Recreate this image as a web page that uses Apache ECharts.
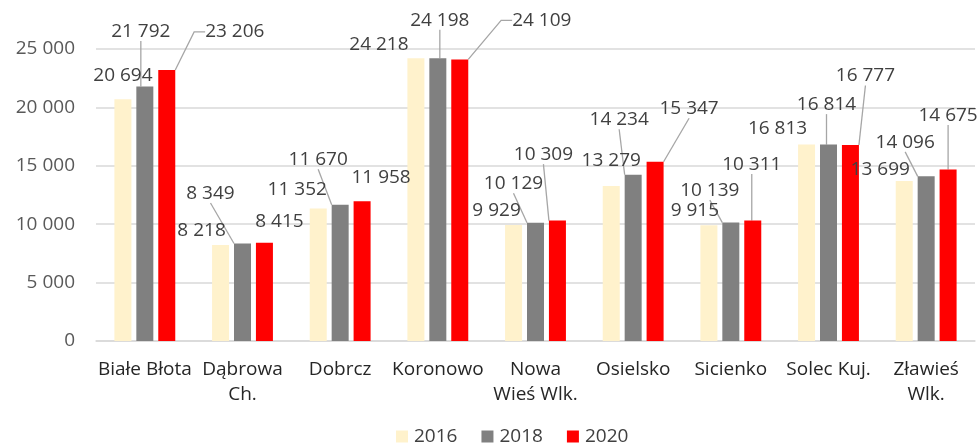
<!DOCTYPE html>
<html>
<head>
<meta charset="utf-8">
<script src="https://cdn.jsdelivr.net/npm/echarts@6/dist/echarts.min.js"></script>
<style>
    html, body { margin: 0; padding: 0; background: #fff; }
    #chart { width: 979px; height: 447px; }
</style>
</head>
<body>
<div id="chart"></div>
<script>
// dane
var categories = ['Białe Błota', 'Dąbrowa\nCh.', 'Dobrcz', 'Koronowo', 'Nowa\nWieś Wlk.', 'Osielsko', 'Sicienko', 'Solec Kuj.', 'Zławieś\nWlk.'];
var seriesNames = ['2016', '2018', '2020'];
var values2016 = [20694, 8218, 11352, 24218, 9929, 13279, 9915, 16813, 13699];
var values2018 = [21792, 8349, 11670, 24198, 10129, 14234, 10139, 16814, 14096];
var values2020 = [23206, 8415, 11958, 24109, 10309, 15347, 10311, 16777, 14675];
var yTicks = [0, 5000, 10000, 15000, 20000, 25000];

// położenie etykiet względem środka górnej krawędzi słupka [dx, dy]
var off2016 = [[0, -24], [-19, -14], [-21, -19], [-37, -14], [-17, -14], [0, -25], [-14, -15], [-29, -16], [-24, -11]];
var off2018 = [[-4, -55], [-32, -50], [-22, -45], [2, -38], [-22, -39], [-14, -55], [-21, -32], [-2, -40], [-21, -34]];
var off2020 = [[68, -38], [15, -21], [19, -24], [82, -39], [-14, -66], [34, -53], [-1, -56], [15, -69], [0, -54]];
// czy etykieta ma linię odniesienia
var line2018 = [1, 1, 1, 1, 1, 1, 1, 1, 1];
var line2020 = [1, 0, 0, 1, 1, 1, 1, 1, 1];

var colors = ['#FFF2CC', '#808080', '#FF0000'];
var FONT = 'Open Sans';
var FS = 19;

function fmt(v) {
    return String(v).replace(/\B(?=(\d{3})+(?!\d))/g, ' ');
}

function buildSeries(idx, values, offsets, lines) {
    var data = values.map(function (v, i) {
        var hasLine = lines ? lines[i] === 1 : false;
        var farRight = offsets[i][0] > 40;
        return {
            value: v,
            labelLine: {
                show: hasLine,
                length2: farRight ? 11 : 0
            }
        };
    });
    return {
        name: seriesNames[idx],
        type: 'bar',
        barWidth: 17,
        barGap: '29%',
        itemStyle: { color: colors[idx] },
        data: data,
        label: {
            show: true,
            position: 'top',
            color: '#404040',
            fontFamily: FONT,
            fontSize: FS,
            formatter: function (p) { return fmt(p.value); }
        },
        labelLine: {
            show: true,
            lineStyle: { color: '#A6A6A6', width: 1.3 }
        },
        labelLayout: function (params) {
            var o = offsets[params.dataIndex];
            return {
                x: params.rect.x + params.rect.width / 2 + o[0],
                y: params.rect.y + o[1],
                align: 'center',
                verticalAlign: 'middle'
            };
        }
    };
}

var myChart = echarts.init(document.getElementById('chart'), null, { renderer: 'canvas' });
var option = {
    animation: false,
    textStyle: { fontFamily: FONT },
    grid: { left: 96, right: 4, top: 49, bottom: 106, containLabel: false },
    legend: {
        bottom: -4,
        left: 391,
        itemWidth: 12,
        itemHeight: 12,
        itemGap: 24,
        icon: 'rect',
        textStyle: { color: '#404040', fontSize: FS, fontFamily: FONT, padding: [0, 0, 0, 1] },
        data: seriesNames
    },
    xAxis: {
        type: 'category',
        data: categories,
        axisTick: { show: false },
        axisLine: { lineStyle: { color: '#D9D9D9', width: 1.5 } },
        axisLabel: {
            interval: 0,
            color: '#262626',
            fontSize: FS,
            fontFamily: FONT,
            lineHeight: 25,
            margin: 16
        }
    },
    yAxis: {
        type: 'value',
        min: yTicks[0],
        max: yTicks[yTicks.length - 1],
        interval: yTicks[1] - yTicks[0],
        axisLine: { show: false },
        axisTick: { show: false },
        splitLine: { lineStyle: { color: '#D9D9D9', width: 1.5 } },
        axisLabel: {
            color: '#595959',
            fontSize: FS,
            fontFamily: FONT,
            margin: 21,
            formatter: function (v) { return fmt(v); }
        }
    },
    series: [
        buildSeries(0, values2016, off2016, null),
        buildSeries(1, values2018, off2018, line2018),
        buildSeries(2, values2020, off2020, line2020)
    ]
};
myChart.setOption(option);
</script>
</body>
</html>
